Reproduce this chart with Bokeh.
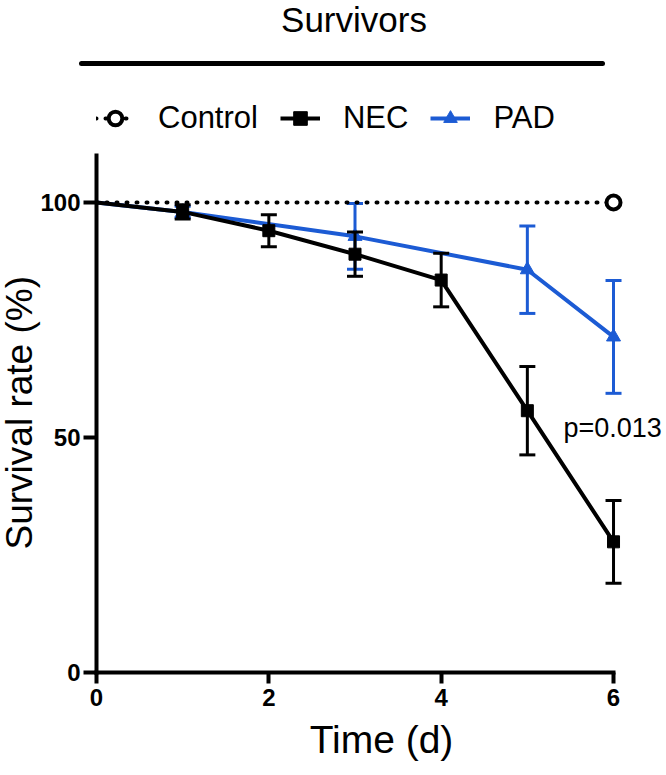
import math
from bokeh.plotting import figure
from bokeh.models import (Range1d, FixedTicker, Legend, LegendItem, Label, Div,
                          ColumnDataSource, Title)
from bokeh.layouts import column
from bokeh.embed import file_html
from bokeh.resources import INLINE

# ---------------- data ----------------
title_text = "Survivors"
x_label = "Time (d)"
y_label = "Survival rate (%)"
p_text = "p=0.013"
series_names = ["Control", "NEC", "PAD"]

time_control = [0, 6]
control_rate = [100, 100]

time_nec = [0, 1, 2, 3, 4, 5, 6]
nec_rate = [100, 98.0, 94.0, 89.0, 83.5, 55.7, 27.8]
nec_err = [0, 1.5, 3.4, 4.7, 5.7, 9.4, 8.8]

time_pad = [0, 1, 3, 5, 6]
pad_rate = [100, 98.0, 92.8, 85.7, 71.4]
pad_err = [0, 1.2, 7.0, 9.3, 12.0]

x_ticks = [0, 2, 4, 6]
y_ticks = [0, 50, 100]

# ---------------- styles ----------------
FONT = "Liberation Sans"
BLUE = "#1c5bd4"
BLACK = "#000000"


def make_src(t, y, e=None):
    d = dict(x=list(t), y=list(y))
    if e is not None:
        d["lo"] = [a - b for a, b in zip(y, e)]
        d["hi"] = [a + b for a, b in zip(y, e)]
    return ColumnDataSource(d)


nec_all = make_src(time_nec, nec_rate, nec_err)
nec_pts = make_src(time_nec[1:], nec_rate[1:], nec_err[1:])
pad_all = make_src(time_pad, pad_rate, pad_err)
pad_pts = make_src(time_pad[1:], pad_rate[1:], pad_err[1:])
ctrl_all = make_src(time_control, control_rate)
ctrl_end = make_src(time_control[-1:], control_rate[-1:])

FIG_W = 666
LEFT = 96
FRAME_W = FIG_W - LEFT
FRAME_H = 594
PX_X = 86.17
PX_Y = 4.7

p = figure(width=FIG_W, height=689,
           x_range=Range1d(0, FRAME_W / PX_X), y_range=Range1d(0, FRAME_H / PX_Y),
           output_backend="svg", toolbar_location=None, title=None,
           min_border_left=LEFT, min_border_right=0, min_border_top=0,
           min_border_bottom=95, outline_line_color=None,
           background_fill_color="white", border_fill_color="white")
p.xgrid.visible = False
p.ygrid.visible = False

# PAD
pad_line = p.line("x", "y", source=pad_all, line_color=BLUE, line_width=4, line_join="round")
p.segment("x", "lo", "x", "hi", source=pad_pts, line_color=BLUE, line_width=3)
p.scatter("x", "lo", source=pad_pts, marker="dash", size=16, line_color=BLUE, line_width=3)
p.scatter("x", "hi", source=pad_pts, marker="dash", size=16, line_color=BLUE, line_width=3)
pad_mk = p.scatter("x", "y", source=pad_pts, marker="triangle", size=14,
                   fill_color=BLUE, line_color=BLUE, line_width=1)

# NEC
nec_line = p.line("x", "y", source=nec_all, line_color=BLACK, line_width=4, line_join="round")
p.segment("x", "lo", "x", "hi", source=nec_pts, line_color=BLACK, line_width=3)
p.scatter("x", "lo", source=nec_pts, marker="dash", size=16, line_color=BLACK, line_width=3)
p.scatter("x", "hi", source=nec_pts, marker="dash", size=16, line_color=BLACK, line_width=3)
nec_mk = p.scatter("x", "y", source=nec_pts, marker="square", size=12,
                   fill_color=BLACK, line_color=BLACK)

# Control
ctrl_line = p.line("x", "y", source=ctrl_all, line_color=BLACK, line_width=4,
                   line_dash="1 9", line_cap="round")
ctrl_mk = p.scatter("x", "y", source=ctrl_end, marker="circle", size=14,
                    fill_color="white", line_color=BLACK, line_width=4)

# axes
for ax in (p.xaxis[0], p.yaxis[0]):
    ax.axis_line_width = 4
    ax.axis_line_color = BLACK
    ax.axis_line_cap = "square"
    ax.major_tick_line_width = 4
    ax.major_tick_line_color = BLACK
    ax.major_tick_in = 0
    ax.minor_tick_line_color = None
    ax.major_label_text_font = FONT
    ax.major_label_text_font_style = "bold"
    ax.major_label_text_font_size = "24px"
    ax.major_label_text_color = BLACK
    ax.axis_label_text_font = FONT
    ax.axis_label_text_font_style = "normal"
    ax.axis_label_text_color = BLACK

p.xaxis.bounds = (0, 6)
p.yaxis.bounds = (0, 110)
p.xaxis.ticker = FixedTicker(ticks=x_ticks)
p.yaxis.ticker = FixedTicker(ticks=y_ticks)
p.xaxis.major_tick_out = 11
p.xaxis.major_label_standoff = 5
p.yaxis.major_tick_out = 13
p.yaxis.major_label_standoff = 3

p.xaxis.axis_label = x_label
p.xaxis.axis_label_standoff = 9
p.xaxis.axis_label_text_font_size = "39px"

# y-axis label as a side title so it can be centred on the 0-110 axis span
ytitle = Title(text=y_label, align="left", vertical_align="middle", offset=123,
               text_font=FONT, text_font_size="37px", text_font_style="normal",
               text_color=BLACK)
try:
    ytitle.standoff = -6
except Exception:
    ytitle.standoff = 0
p.add_layout(ytitle, "left")

p.add_layout(Label(x=5.42, y=52.1, text=p_text, text_align="left",
                   text_baseline="middle", text_font=FONT,
                   text_font_size="27px", text_color=BLACK))

legend = Legend(items=[
    LegendItem(label=series_names[0], renderers=[ctrl_line, ctrl_mk]),
    LegendItem(label=series_names[1], renderers=[nec_line, nec_mk]),
    LegendItem(label=series_names[2], renderers=[pad_line, pad_mk]),
], location=(-1, 536), orientation="horizontal", padding=0, margin=0,
    spacing=22, glyph_width=40, glyph_height=34, label_height=34,
    label_standoff=23, label_text_font=FONT, label_text_font_size="31px",
    label_text_color=BLACK, background_fill_alpha=0, border_line_color=None)
p.add_layout(legend)

html_title = f"""<div style="position:relative;width:{FIG_W}px;height:78px;">
<div style="position:absolute;left:254px;top:2px;width:200px;text-align:center;font-family:'{FONT}';font-size:35px;line-height:35px;color:black;white-space:nowrap;">{title_text}</div>
<div style="position:absolute;left:79px;top:61px;width:526px;height:5px;background:black;border-radius:3px;"></div>
</div>"""
div = Div(text=html_title, width=FIG_W, height=78, margin=0)

layout = column(div, p, spacing=0, margin=0)

open("out.html", "w").write(file_html(layout, INLINE))
